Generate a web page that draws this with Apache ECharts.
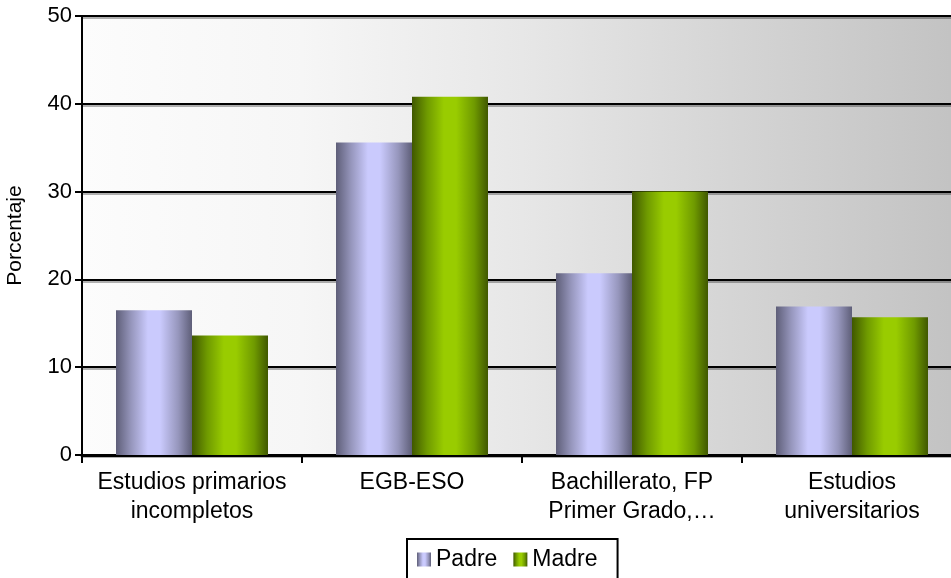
<!DOCTYPE html>
<html>
<head>
<meta charset="utf-8">
<script src="https://cdn.jsdelivr.net/npm/echarts@6/dist/echarts.min.js"></script>
<style>
  html, body { margin: 0; padding: 0; background: #ffffff; }
  #chart { width: 951px; height: 578px; }
</style>
</head>
<body>
<div id="chart"></div>
<script>
// Nivel de estudios de los padres (porcentaje)
const categories = [
  'Estudios primarios\nincompletos',
  'EGB-ESO',
  'Bachillerato, FP\nPrimer Grado,…',
  'Estudios\nuniversitarios'
];
const padre = [16.5, 35.6, 20.7, 16.9];
const madre = [13.6, 40.8, 30.0, 15.7];
const yTicks = { min: 0, max: 50, interval: 10 };

const FONT = '"Liberation Sans", Arial, sans-serif';

// cylinder-like shading across each bar
function shade(dark, mid, light) {
  return new echarts.graphic.LinearGradient(0, 0, 1, 0, [
    { offset: 0, color: dark },
    { offset: 0.2, color: mid },
    { offset: 0.42, color: light },
    { offset: 0.58, color: light },
    { offset: 0.82, color: mid },
    { offset: 1, color: dark }
  ]);
}

const chart = echarts.init(document.getElementById('chart'), null, { renderer: 'canvas' });

chart.setOption({
  animation: false,
  textStyle: { fontFamily: FONT, color: '#000' },
  grid: {
    left: 82, top: 16, width: 880, height: 439,
    outerBoundsMode: 'none',
    containLabel: false,
    show: true,
    borderWidth: 0,
    backgroundColor: new echarts.graphic.LinearGradient(0, 0, 1, 0, [
      { offset: 0, color: '#fcfcfc' },
      { offset: 0.25, color: '#f6f6f6' },
      { offset: 0.5, color: '#e7e7e7' },
      { offset: 0.75, color: '#d4d4d4' },
      { offset: 1, color: '#c2c2c2' }
    ])
  },
  legend: {
    left: 407, top: 539,
    data: ['Padre', 'Madre'],
    itemWidth: 14, itemHeight: 14, itemGap: 16,
    padding: [9, 20, 10, 10],
    borderColor: '#000', borderWidth: 2,
    backgroundColor: '#fff',
    icon: 'rect',
    textStyle: { fontSize: 23, fontFamily: FONT, color: '#000', padding: [0, 0, 0, 0] }
  },
  xAxis: {
    type: 'category',
    data: categories,
    axisLine: { lineStyle: { color: '#000', width: 3 } },
    axisTick: { show: true, length: 8, lineStyle: { color: '#000', width: 2 } },
    axisLabel: { interval: 0, fontSize: 23, color: '#000', margin: 13, lineHeight: 29, fontFamily: FONT }
  },
  yAxis: {
    type: 'value',
    min: yTicks.min, max: yTicks.max, interval: yTicks.interval,
    name: 'Porcentaje',
    nameLocation: 'middle',
    nameGap: 56,
    nameTextStyle: { fontSize: 21, color: '#000', fontFamily: FONT },
    axisLine: { show: true, lineStyle: { color: '#000', width: 2 } },
    axisTick: { show: true, length: 7, lineStyle: { color: '#000', width: 2 } },
    axisLabel: { fontSize: 22, color: '#000', margin: 10, fontFamily: FONT },
    splitLine: {
      lineStyle: {
        color: '#000', width: 2,
        shadowColor: 'rgba(0,0,0,0.3)', shadowOffsetY: 2, shadowBlur: 0
      }
    }
  },
  series: [
    {
      name: 'Padre', type: 'bar', data: padre,
      barWidth: 76, barGap: '0%',
      itemStyle: { color: shade('#5e5e78', '#9696bc', '#cacafd') }
    },
    {
      name: 'Madre', type: 'bar', data: madre,
      barWidth: 76,
      itemStyle: { color: shade('#405800', '#6f9a00', '#99cc00') }
    }
  ]
});
</script>
</body>
</html>
